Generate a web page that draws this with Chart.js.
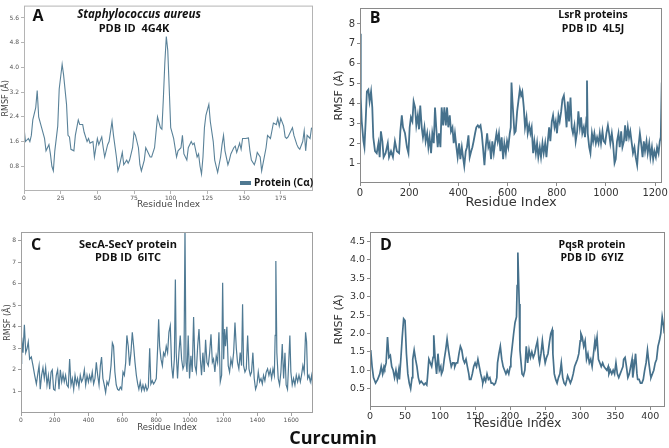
<!DOCTYPE html>
<html>
<head>
<meta charset="utf-8">
<script src="https://cdn.jsdelivr.net/npm/chart.js@4.4.0/dist/chart.umd.min.js"></script>
<style>
	html, body { margin: 0; padding: 0; background: #fff; }
	#page { position: relative; width: 669px; height: 448px; overflow: hidden; }
	canvas { position: absolute; }
	#curcumin {
		position: absolute; left: 0; width: 666px; top: 425px; text-align: center;
		font: bold 18px "Open Sans", sans-serif; color: #111;
	}
</style>
</head>
<body>
<div id="page">
	<canvas id="chartA" width="320" height="212" style="left:0px;top:0px"></canvas>
	<canvas id="chartB" width="336" height="212" style="left:333px;top:0px"></canvas>
	<canvas id="chartC" width="320" height="212" style="left:0px;top:222px"></canvas>
	<canvas id="chartD" width="336" height="212" style="left:333px;top:222px"></canvas>
	<div id="curcumin">Curcumin</div>
</div>
<script>
/* =========================================
	DATA  (residue index / RMSF in Angstrom)
=========================================*/
const resA = [0,1,3,4,5,6,8,9,10,12,14,15,17,18,19,20,21,23,24,26,27,29,30,31,32,34,35,37,38,40,
	41,43,44,45,47,48,50,51,53,54,55,57,58,60,61,63,64,65,67,68,70,71,72,74,75,76,78,79,80,82,
	83,84,86,87,89,90,91,93,94,95,96,97,98,99,100,102,103,104,105,107,108,109,111,112,114,115,116,118,119,120,
	121,122,123,124,126,127,129,130,131,132,134,135,136,137,139,140,141,143,144,145,147,148,149,151,153,154,155,157,158,159,
	161,162,163,165,166,168,169,170,172,173,174,175,177,178,179,180,182,183,184,186,187,188,190,191,192,193,195,196];
const rmsfA = [2.05,1.6,1.7,1.6,1.8,2.3,2.7,3.25,2.4,2.05,1.7,1.3,1.5,1.2,0.8,0.65,1.3,2.1,3.3,4.1,3.75,2.8,1.8,1.75,1.35,1.3,1.8,2.3,2.15,2.15,
	1.9,1.6,1.7,1.55,1.6,1.1,1.7,1.5,1.75,1.4,1.1,1.5,1.6,2.25,1.8,1.1,0.65,0.8,1.25,0.85,1.0,0.9,1.0,1.4,1.9,1.8,1.4,0.85,0.65,1.0,
	1.4,1.3,1.1,1.1,1.4,1.9,2.4,2.05,2.0,3.0,4.15,5.0,4.55,3.3,2.05,1.7,1.4,1.1,1.3,1.4,1.8,1.2,1.0,1.4,1.6,1.5,1.55,1.1,1.2,0.8,
	0.55,1.1,2.05,2.45,2.8,2.25,1.6,1.0,0.8,0.6,1.1,1.5,1.8,1.3,0.85,1.0,1.2,1.4,1.45,1.25,1.55,1.35,1.7,1.7,1.72,1.3,1.0,0.85,1.0,1.25,
	1.1,0.65,0.9,1.4,1.8,1.7,1.95,2.2,2.15,2.35,2.1,2.35,2.1,1.75,1.7,1.75,1.95,2.05,1.8,1.5,1.4,1.35,1.6,1.95,1.3,1.8,1.7,2.05];

const resB = [0,3,7,14,18,23,28,34,39,45,50,54,61,68,75,80,85,91,96,104,113,118,126,134,142,150,159,164,170,175,
	183,191,197,202,207,213,218,224,229,235,240,245,251,256,262,267,273,278,283,289,294,300,305,311,316,321,327,332,338,343,
	349,354,359,365,370,376,381,386,392,397,403,408,414,419,424,430,435,441,446,452,457,462,468,473,479,484,490,495,500,506,
	511,517,522,527,533,538,544,549,555,560,565,571,576,582,587,593,598,603,609,613,616,620,624,628,633,639,644,650,655,660,
	666,671,677,682,688,693,698,704,709,715,720,725,731,736,742,747,753,758,763,769,774,780,785,791,796,801,807,812,818,823,
	829,834,840,845,850,856,861,866,872,877,883,888,894,899,904,910,915,921,923,926,932,937,943,948,953,959,964,970,975,980,
	986,991,997,1002,1008,1013,1018,1024,1029,1035,1040,1045,1051,1056,1062,1067,1073,1078,1083,1089,1094,1099,1105,1110,1116,1121,1127,1132,1138,1143,
	1149,1154,1159,1165,1170,1176,1181,1187,1192,1197,1203,1208,1214,1219,1223,1227];
const rmsfB = [7.5,4.3,3.1,2.1,1.8,3.1,4.6,4.7,4.1,4.6,3.8,2.3,1.6,1.5,2.0,1.3,2.6,2.1,1.3,1.5,2.0,1.3,1.6,1.3,2.1,1.6,1.5,2.6,3.4,2.8,
	2.5,1.8,1.5,2.8,3.3,3.1,4.1,3.8,2.9,3.4,2.7,3.9,2.8,2.3,2.8,2.1,2.5,1.8,2.3,1.5,2.5,2.0,3.8,2.6,1.8,2.5,1.8,3.8,2.9,3.8,
	2.9,3.8,2.8,3.4,2.6,2.8,2.0,2.5,1.8,1.3,2.0,1.2,1.8,1.3,0.85,1.6,1.8,2.4,1.3,1.6,1.8,2.1,2.5,2.8,2.9,2.8,2.9,2.5,1.8,0.9,
	1.8,2.5,1.8,2.0,1.2,2.1,1.5,2.0,2.5,2.1,2.5,1.6,2.3,1.2,2.0,1.5,2.1,1.8,2.5,2.8,5.05,4.1,3.3,2.5,2.6,3.6,4.1,4.7,4.4,4.6,
	3.8,2.8,3.3,2.5,2.9,2.5,2.8,1.5,2.1,1.5,2.0,1.3,1.8,1.3,2.0,1.5,2.0,1.3,2.0,2.8,2.1,3.1,3.4,2.8,3.1,2.5,3.4,3.1,3.6,4.2,
	4.4,3.8,2.8,4.1,3.1,4.3,2.8,2.5,2.9,2.1,2.6,3.6,2.8,3.3,2.5,2.8,2.3,3.3,5.15,2.5,1.8,1.5,2.5,2.1,2.5,2.0,2.3,2.0,2.5,2.0,
	2.6,2.1,2.0,2.5,2.9,2.5,2.0,2.5,2.0,1.0,1.2,2.1,2.5,1.8,2.6,1.8,2.1,2.9,2.1,2.8,2.3,2.6,2.0,1.5,1.8,1.3,0.9,1.8,2.5,2.0,
	1.3,2.1,1.6,2.1,1.5,2.0,1.3,1.8,1.2,1.6,1.3,1.8,1.5,2.1,2.3,5.05];

const resC = [0,4,12,20,28,36,43,51,61,71,81,91,101,107,114,122,130,138,146,154,162,170,178,185,193,201,209,217,225,233,
	241,249,256,264,272,280,288,296,304,312,320,328,335,343,351,359,367,375,383,391,399,406,414,422,430,438,446,454,462,470,
	477,485,493,501,509,517,525,533,541,548,556,564,572,580,588,596,604,612,620,627,635,643,651,659,667,675,683,691,698,706,
	714,722,730,738,746,754,762,769,777,785,793,801,809,815,821,829,837,844,852,860,868,876,884,892,900,908,914,919,927,935,
	943,951,959,965,971,977,983,990,998,1006,1014,1022,1030,1038,1046,1054,1062,1069,1077,1085,1093,1101,1109,1117,1125,1133,1140,1148,1156,1164,
	1172,1180,1188,1194,1200,1206,1211,1219,1227,1235,1243,1251,1259,1267,1275,1282,1290,1298,1306,1312,1318,1326,1334,1342,1350,1358,1365,1373,1381,1389,
	1397,1405,1413,1421,1429,1436,1444,1452,1460,1468,1476,1484,1492,1500,1505,1509,1515,1523,1531,1539,1547,1555,1563,1570,1578,1586,1592,1598,1606,1614,
	1622,1630,1638,1646,1654,1661,1669,1677,1685,1691,1697,1705,1713,1721,1728];
const rmsfC = [2.3,3.5,2.8,4.1,2.8,3.0,3.3,2.5,2.6,2.2,1.75,1.35,1.9,2.2,1.1,1.75,2.1,1.6,2.1,1.3,1.75,1.1,1.9,2.0,1.1,1.05,1.75,2.0,1.1,2.0,
	1.45,1.8,1.45,1.75,1.3,1.2,2.5,1.3,1.6,1.1,1.75,1.35,1.6,1.2,1.75,1.45,1.6,2.0,1.3,1.75,1.45,1.75,1.5,1.9,1.35,1.6,2.35,1.75,1.3,2.2,
	2.6,1.6,1.3,0.95,1.45,1.3,1.6,2.2,3.25,3.1,1.9,1.3,1.1,1.05,1.2,1.1,1.9,1.75,2.35,3.6,3.1,2.2,2.8,3.75,3.1,2.35,1.75,1.35,1.1,1.45,
	1.05,1.3,1.05,1.3,1.05,1.2,3.0,1.35,1.5,1.35,1.45,1.6,3.0,4.35,3.1,2.5,2.2,2.8,2.65,3.1,2.8,3.75,4.05,2.2,1.6,2.5,6.2,2.8,1.6,2.8,
	3.6,2.5,2.05,2.2,8.6,2.35,1.9,3.6,1.6,2.65,1.9,4.45,2.2,1.9,3.1,3.9,2.5,1.75,2.8,1.9,3.4,2.35,2.2,2.8,3.65,2.35,2.5,1.9,2.65,2.35,
	3.75,1.45,1.75,6.05,2.5,3.9,3.1,4.0,2.2,1.9,2.5,2.2,2.8,4.2,3.0,2.35,2.05,2.8,2.2,5.05,2.2,1.9,2.05,3.6,2.05,1.75,1.9,2.8,1.6,1.1,
	1.3,1.9,1.45,1.6,1.35,1.75,1.5,1.9,2.05,1.75,2.0,1.6,2.05,1.75,3.6,7.05,2.8,1.6,1.3,1.9,3.2,1.6,2.8,1.3,1.1,2.5,3.6,1.9,1.3,1.6,
	1.3,1.75,1.45,1.75,1.45,1.75,2.2,1.9,3.75,3.3,1.6,1.75,1.45,1.75,1.1];

const resD = [0,1,3,5,8,11,14,16,18,20,21,23,25,27,29,31,33,35,37,39,41,42,44,46,48,50,52,54,56,58,
	60,61,63,65,67,69,71,73,75,77,79,81,82,84,86,88,90,91,93,95,97,99,101,102,104,106,108,110,112,114,
	116,118,120,121,123,125,127,129,131,133,135,137,139,141,142,144,146,148,150,152,154,156,158,160,161,163,165,167,169,171,
	173,175,177,179,181,182,184,186,188,190,192,194,196,198,200,201,203,205,207,209,210,211,213,214,217,219,221,223,225,227,
	229,231,233,235,237,239,241,242,244,246,248,250,252,254,256,258,260,261,263,265,267,269,271,273,275,277,279,281,282,284,
	286,288,290,292,294,296,298,300,301,303,305,307,309,311,313,315,317,319,321,322,324,326,328,330,332,334,336,338,340,341,
	343,345,347,349,351,353,355,357,359,361,362,364,366,368,370,372,374,375,377,379,381,382,384,386,388,390,392,394,396,398,
	400,401,403,405,407,409,411,413,415,417,419,420];
const rmsfD = [1.45,1.55,1.1,0.8,0.65,0.75,0.9,1.1,0.9,1.1,1.05,1.2,1.9,1.35,1.4,1.1,1.0,0.8,1.0,0.75,1.0,0.75,1.3,1.9,2.4,2.35,1.45,0.9,0.65,0.5,
	0.8,1.3,1.55,1.3,1.1,0.8,0.65,0.7,0.65,0.6,0.65,0.6,0.8,1.3,1.2,1.1,1.35,1.95,1.3,0.9,1.45,1.0,1.1,0.9,1.0,1.3,1.55,1.85,1.55,1.3,
	1.1,1.2,1.2,1.1,1.2,1.2,1.45,1.65,1.55,1.3,1.2,1.3,1.1,0.9,0.75,0.75,0.9,1.1,1.2,1.1,1.3,1.1,0.9,0.75,0.65,0.8,0.7,0.9,0.75,0.8,
	0.65,0.65,0.6,0.65,0.8,1.2,1.45,1.65,1.3,1.1,1.0,0.9,1.0,0.9,1.1,1.3,1.65,2.0,2.3,2.45,3.3,4.2,2.8,1.55,0.9,0.85,1.0,1.65,1.2,1.55,
	1.35,1.5,1.35,1.45,1.65,1.8,1.3,1.2,1.45,1.8,1.45,1.2,1.35,1.45,1.75,2.0,2.1,1.45,0.9,0.75,0.65,0.8,0.9,1.2,0.8,0.65,0.6,0.75,0.85,0.75,
	0.65,0.75,0.9,1.1,1.2,1.3,1.45,1.8,2.0,1.9,1.65,1.8,1.3,1.45,1.2,1.3,1.1,1.45,1.8,1.65,1.9,1.3,1.2,1.1,1.2,1.1,1.05,1.0,1.1,0.9,
	1.0,0.9,1.0,0.9,1.2,0.9,0.8,0.9,1.0,1.1,1.3,1.35,1.1,0.8,0.9,1.1,1.3,0.8,1.1,1.45,0.9,0.75,0.75,0.65,0.65,0.75,1.0,1.2,1.55,1.2,
	0.9,0.8,0.9,1.0,1.2,1.3,1.65,1.8,2.0,2.45,2.2,2.0];

/* axis ticks */
const ticksXA = [0,25,50,75,100,125,150,175];
const ticksYA = [0.8,1.6,2.4,3.2,4.0,4.8,5.6];
const ticksXB = [0,200,400,600,800,1000,1200];
const ticksYB = [1,2,3,4,5,6,7,8];
const ticksXC = [0,200,400,600,800,1000,1200,1400,1600];
const ticksYC = [1,2,3,4,5,6,7,8];
const ticksXD = [0,50,100,150,200,250,300,350,400];
const ticksYD = [0.5,1.0,1.5,2.0,2.5,3.0,3.5,4.0,4.5];

/* =========================================
	PLUGINS: frame + panel text
=========================================*/
const framePlugin = {
	id: "frame",
	afterDraw(chart, args, opts) {
		const a = chart.chartArea;
		const ctx = chart.ctx;
		ctx.save();
		ctx.strokeStyle = opts.color || "#999";
		ctx.lineWidth = opts.width || 1;
		ctx.strokeRect(a.left + 0.5, a.top + 0.5, a.right - a.left - 1, a.bottom - a.top - 1);
		ctx.restore();
	}
};

const textPlugin = {
	id: "panelText",
	afterDraw(chart, args, opts) {
		const ctx = chart.ctx;
		ctx.save();
		(opts.items || []).forEach(it => {
			if (it.box) {
				ctx.fillStyle = it.color;
				ctx.fillRect(it.x, it.y, it.w, it.h);
				return;
			}
			ctx.font = it.font;
			ctx.fillStyle = it.color || "#111";
			ctx.textAlign = it.align || "center";
			ctx.textBaseline = "middle";
			ctx.fillText(it.text, it.x, it.y);
		});
		ctx.restore();
	}
};

function makePanel(id, p) {
	const points = p.res.map((r, i) => ({ x: r, y: p.rmsf[i] }));
	const tickFont = { family: "DejaVu Sans", size: p.tickSize };
	return new Chart(document.getElementById(id), {
		type: "line",
		data: {
			datasets: [{
				data: points,
				borderColor: p.color,
				borderWidth: p.lineWidth,
				pointRadius: 0,
				tension: 0,
				fill: false
			}]
		},
		options: {
			responsive: false,
			animation: false,
			layout: { padding: { top: p.padTop, right: p.padRight, left: 0, bottom: 0 } },
			plugins: {
				legend: { display: false },
				tooltip: { enabled: false },
				frame: { color: p.frameColor },
				panelText: { items: p.texts }
			},
			scales: {
				x: {
					type: "linear",
					min: 0,
					max: p.xMax,
					afterBuildTicks: s => { s.ticks = p.ticksX.map(v => ({ value: v })); },
					afterFit: s => { s.height = p.xAxisH; },
					border: { display: false },
					grid: { drawOnChartArea: false, drawTicks: true, tickLength: 3, color: p.frameColor },
					ticks: { font: tickFont, color: p.tickColor, padding: 1, maxRotation: 0, autoSkip: false,
						callback: v => String(v) },
					title: { display: true, text: "Residue Index", color: p.titleColor,
						font: { family: "DejaVu Sans", size: p.xTitleSize }, padding: { top: 0, bottom: p.xTitlePad } }
				},
				y: {
					min: 0,
					max: p.yMax,
					afterBuildTicks: s => { s.ticks = p.ticksY.map(v => ({ value: v })); },
					afterFit: s => { s.width = p.yAxisW; },
					border: { display: false },
					grid: { drawOnChartArea: false, drawTicks: true, tickLength: 3, color: p.frameColor },
					ticks: { font: tickFont, color: p.tickColor, padding: 2, autoSkip: false,
						callback: v => v.toFixed(p.yDec) },
					title: { display: true, text: "RMSF (Å)", color: p.titleColor,
						font: { family: "DejaVu Sans", size: p.yTitleSize }, padding: { top: p.yTitlePad, bottom: 0 } }
				}
			}
		},
		plugins: [framePlugin, textPlugin]
	});
}

/* =========================================
	PANELS
=========================================*/
const bold = s => `bold ${s}px "Open Sans", sans-serif`;

makePanel("chartA", {
	res: resA, rmsf: rmsfA, ticksX: ticksXA, ticksY: ticksYA, xMax: 197, yMax: 6.0, yDec: 1,
	color: "#5a8299", lineWidth: 1.1, frameColor: "#b4b4b4", tickColor: "#555", titleColor: "#444",
	tickSize: 6, xTitleSize: 9, yTitleSize: 8, xTitlePad: 2, yTitlePad: 1,
	padTop: 2, padRight: 7, yAxisW: 24, xAxisH: 21,
	texts: [
		{ text: "A", x: 38, y: 16, font: bold(16) },
		{ text: "Staphylococcus aureus", x: 139, y: 15, font: `italic ${bold(11.5)}` },
		{ text: "PDB ID  4G4K", x: 134, y: 28.5, font: bold(11) },
		{ box: true, x: 240, y: 181, w: 11, h: 4, color: "#4f7891" },
		{ text: "Protein (Cα)", x: 254, y: 183, font: bold(10), align: "left" }
	]
});

makePanel("chartB", {
	res: resB, rmsf: rmsfB, ticksX: ticksXB, ticksY: ticksYB, xMax: 1228, yMax: 8.8, yDec: 0,
	color: "#46718c", lineWidth: 1.8, frameColor: "#8a8a8a", tickColor: "#333", titleColor: "#333",
	tickSize: 10, xTitleSize: 13, yTitleSize: 11, xTitlePad: 2, yTitlePad: 0,
	padTop: 3, padRight: 7, yAxisW: 27, xAxisH: 29,
	texts: [
		{ text: "B", x: 42, y: 18, font: bold(16) },
		{ text: "LsrR proteins", x: 260, y: 15, font: bold(10.5) },
		{ text: "PDB ID  4L5J", x: 260, y: 29, font: bold(10.5) }
	]
});

makePanel("chartC", {
	res: resC, rmsf: rmsfC, ticksX: ticksXC, ticksY: ticksYC, xMax: 1729, yMax: 8.4, yDec: 0,
	color: "#4f7a94", lineWidth: 1.2, frameColor: "#a0a0a0", tickColor: "#555", titleColor: "#444",
	tickSize: 6, xTitleSize: 8.5, yTitleSize: 8, xTitlePad: 1.5, yTitlePad: 3,
	padTop: 10, padRight: 7, yAxisW: 21, xAxisH: 21,
	texts: [
		{ text: "C", x: 36, y: 23, font: bold(16) },
		{ text: "SecA-SecY protein", x: 128, y: 23, font: bold(11) },
		{ text: "PDB ID  6ITC", x: 128, y: 36, font: bold(11) }
	]
});

makePanel("chartD", {
	res: resD, rmsf: rmsfD, ticksX: ticksXD, ticksY: ticksYD, xMax: 421, yMax: 4.76, yDec: 1,
	color: "#46718c", lineWidth: 1.7, frameColor: "#8a8a8a", tickColor: "#333", titleColor: "#333",
	tickSize: 9.5, xTitleSize: 12.5, yTitleSize: 11, xTitlePad: 2.5, yTitlePad: 0,
	padTop: 10, padRight: 4, yAxisW: 37, xAxisH: 27,
	texts: [
		{ text: "D", x: 53, y: 23, font: bold(16) },
		{ text: "PqsR protein", x: 259, y: 23, font: bold(10.5) },
		{ text: "PDB ID  6YIZ", x: 259, y: 36, font: bold(10.5) }
	]
});
</script>
</body>
</html>
